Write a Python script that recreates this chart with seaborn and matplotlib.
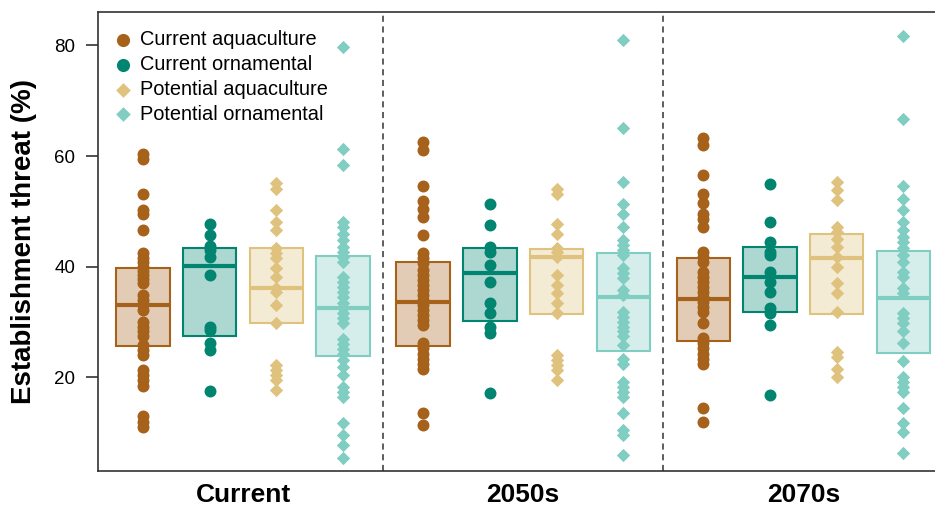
import numpy as np
import pandas as pd
import matplotlib
matplotlib.use("Agg")
import matplotlib.pyplot as plt
import seaborn as sns

# categories
periods = ["Current", "2050s", "2070s"]
groups = ["Current aquaculture", "Current ornamental",
          "Potential aquaculture", "Potential ornamental"]
colors = ["#a6611a", "#018571", "#dfc27d", "#80cdc1"]
markers = ["o", "o", "D", "D"]

# establishment threat (%) per species
ca_current = [60.3, 59.4, 53.2, 50.2, 49.5, 46.6, 42.4, 41.6, 40.8, 40.0, 39.3, 38.5,
              37.8, 37.0, 34.9, 34.0, 33.1, 32.2, 30.1, 29.2, 28.3, 27.4, 25.9, 25.0,
              24.0, 21.3, 20.4, 19.5, 18.4, 13.0, 12.0, 11.1]
co_current = [47.8, 45.7, 43.7, 43.0, 41.8, 38.5, 29.2, 28.6, 26.2, 25.0, 17.6]
pa_current = [55.2, 54.1, 50.2, 48.1, 46.7, 43.3, 42.4, 41.5, 39.7, 38.2, 36.1, 35.5,
              33.1, 29.8, 22.2, 21.3, 20.4, 19.5, 17.7]
po_current = [79.7, 61.2, 58.3, 48.1, 47.1, 46.0, 44.8, 43.6, 42.7, 41.8, 40.9, 38.2,
              37.3, 36.4, 35.5, 34.6, 33.4, 32.5, 31.6, 30.7, 29.8, 27.0, 26.1, 25.2,
              24.3, 23.1, 21.9, 20.4, 18.3, 17.4, 16.5, 11.7, 9.6, 7.8, 5.4]

ca_2050 = [62.6, 61.0, 54.6, 51.9, 50.5, 48.9, 45.7, 42.4, 41.5, 40.6, 39.4, 38.5,
           37.6, 36.7, 35.8, 34.9, 34.0, 33.1, 32.2, 31.3, 30.4, 29.5, 26.2, 25.3,
           24.3, 23.4, 22.5, 21.5, 13.6, 11.4]
co_2050 = [51.4, 47.5, 43.6, 42.7, 40.3, 37.3, 33.4, 31.6, 29.2, 28.0, 17.1]
pa_2050 = [54.1, 53.2, 47.8, 45.9, 43.3, 42.7, 41.8, 38.5, 36.7, 35.2, 33.4, 31.6,
           24.0, 23.1, 22.2, 21.3, 19.5]
po_2050 = [80.9, 65.0, 55.3, 51.3, 49.6, 47.1, 44.8, 43.9, 43.0, 42.1, 39.7, 38.8,
           37.9, 35.8, 34.9, 31.9, 31.0, 30.1, 29.2, 28.3, 27.4, 25.9, 23.4, 22.5,
           19.2, 18.3, 17.4, 16.5, 13.6, 10.5, 9.6, 6.0]

ca_2070 = [63.3, 62.0, 56.5, 53.2, 51.5, 49.6, 48.7, 47.2, 42.7, 41.8, 40.9, 39.1,
           38.2, 37.3, 36.4, 35.5, 34.6, 33.7, 32.8, 31.9, 29.8, 27.1, 26.2, 25.3,
           24.3, 23.4, 22.5, 14.4, 12.0]
co_2070 = [55.0, 48.1, 44.5, 42.7, 42.1, 39.1, 37.3, 35.5, 32.5, 31.6, 29.5, 16.8]
pa_2070 = [55.3, 53.8, 52.0, 47.2, 46.3, 45.1, 43.6, 41.8, 40.0, 37.0, 35.2, 31.9,
           24.6, 23.7, 21.6, 20.1]
po_2070 = [81.6, 66.6, 54.6, 52.3, 50.3, 48.1, 46.6, 45.4, 44.5, 43.3, 42.1, 40.9,
           39.1, 38.2, 36.1, 35.2, 31.6, 30.7, 29.8, 28.3, 26.2, 23.0, 20.1, 19.2,
           18.3, 17.4, 14.4, 11.8, 10.2, 6.3]

# box statistics (lower quartile, median, upper quartile), period-major order
box_q1 = [25.6, 27.5, 29.8, 23.9, 25.6, 30.2, 31.4, 24.7, 26.6, 31.8, 31.4, 24.5]
box_med = [33.1, 40.1, 36.2, 32.5, 33.7, 38.8, 41.8, 34.5, 34.2, 38.2, 41.5, 34.3]
box_q3 = [39.8, 43.3, 43.3, 42.0, 40.8, 43.3, 43.2, 42.4, 41.6, 43.5, 45.9, 42.8]

series = {
    "Current": [ca_current, co_current, pa_current, po_current],
    "2050s": [ca_2050, co_2050, pa_2050, po_2050],
    "2070s": [ca_2070, co_2070, pa_2070, po_2070],
}

period_step = 4.2
rows = []
for p, period in enumerate(periods):
    for g, group in enumerate(groups):
        for v in series[period][g]:
            rows.append({"period": period, "group": group,
                         "pos": p * period_step + g, "threat": v})
df = pd.DataFrame(rows)

sns.set_style("ticks")
plt.rcParams["font.family"] = ["Liberation Sans", "DejaVu Sans"]
plt.rcParams["text.color"] = "black"

fig = plt.figure(figsize=(9.35, 5.11), dpi=100)
ax = fig.add_axes([0.1048, 0.0783, 0.9185, 0.898])

box_w = 0.8
for p in range(len(periods)):
    for g in range(len(groups)):
        i = p * len(groups) + g
        x = p * period_step + g
        ax.bar(x, box_q3[i] - box_q1[i], bottom=box_q1[i], width=box_w,
               color=colors[g], alpha=0.32, linewidth=0, zorder=1)
        ax.bar(x, box_q3[i] - box_q1[i], bottom=box_q1[i], width=box_w,
               fill=False, edgecolor=colors[g], linewidth=1.5, zorder=2)
        ax.hlines(box_med[i], x - box_w / 2, x + box_w / 2, color=colors[g],
                  linewidth=3, zorder=2)

sizes = [74, 74, 46, 46]
for g, group in enumerate(groups):
    sub = df[df["group"] == group]
    sns.scatterplot(data=sub, x="pos", y="threat", ax=ax, color=colors[g],
                    marker=markers[g], s=sizes[g], linewidth=0, label=group,
                    zorder=3)

for p in range(1, len(periods)):
    ax.axvline(p * period_step - (period_step - 3) / 2, color="#333333",
               linestyle=(0, (4, 3)), linewidth=1.1, zorder=0)

ax.set_xlim(-0.675, 12.2)
ax.set_ylim(3.1, 86.0)
ax.set_xticks([p * period_step + 1.5 for p in range(len(periods))])
ax.set_xticklabels(periods, fontsize=19, fontweight="bold", color="black")
ax.tick_params(axis="x", length=0, pad=9)
ax.set_yticks([20, 40, 60, 80])
ax.tick_params(axis="y", labelsize=13.5, length=8.5, width=1.2, pad=8,
               colors="#333333", labelcolor="black")
ax.set_xlabel("")
ax.set_ylabel("Establishment threat (%)", fontsize=20, fontweight="bold",
              labelpad=12, color="black")
for s in ax.spines.values():
    s.set_color("#333333")
    s.set_linewidth(1.2)

ax.legend(loc="upper left", bbox_to_anchor=(0.006, 0.978), frameon=False,
          fontsize=14.4, handletextpad=0.25, labelspacing=0.29,
          borderaxespad=0, handlelength=1.2, markerscale=1.1)

fig.savefig("out.png", dpi=100)
